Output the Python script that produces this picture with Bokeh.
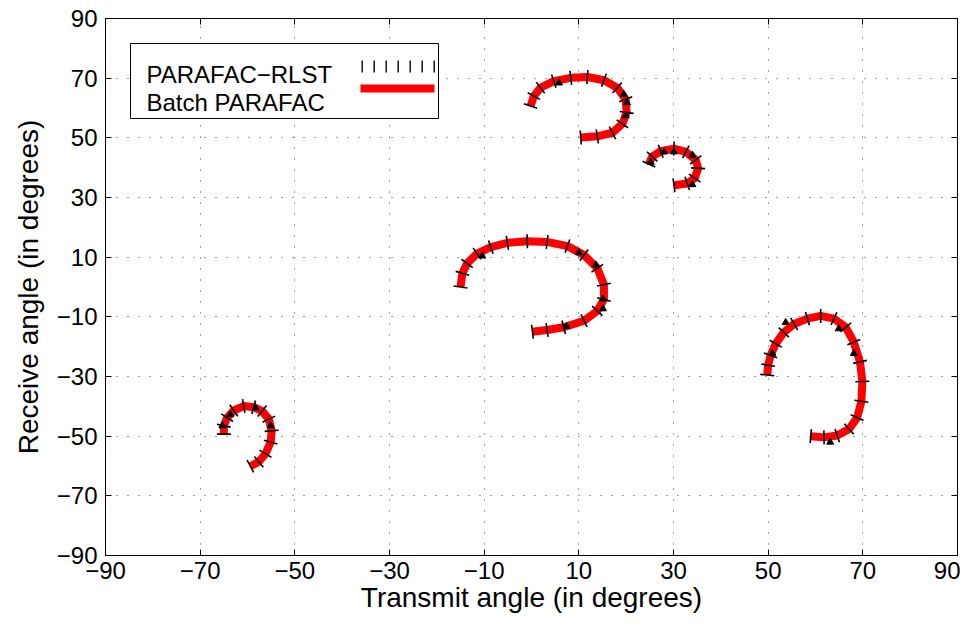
import numpy as np
from bokeh.plotting import figure
from bokeh.models import Range1d, FixedTicker, LinearAxis, Label, BoxAnnotation
from bokeh.embed import file_html
from bokeh.resources import INLINE

FONT = "Liberation Sans"

# ---- tick values ----
x_ticks = [-90, -70, -50, -30, -10, 10, 30, 50, 70, 90]
y_ticks = [-90, -70, -50, -30, -10, 10, 30, 50, 70, 90]

# ---- Batch PARAFAC trajectories ----
arc1_x = [-15.0, -14.6, -13.6, -11.5, -8.6, -5.1, -0.9, 3.3, 7.6, 11.1, 13.9, 15.3, 15.3, 13.9, 11.1, 6.8, 3.3, 0.2]
arc1_y = [0.0, 4.6, 7.9, 11.2, 13.4, 14.8, 15.3, 15.1, 13.7, 10.7, 6.3, 0.8, -4.2, -8.0, -11.3, -13.5, -14.4, -15.0]

arc2_x = [49.8, 50.0, 50.5, 51.6, 53.3, 55.5, 58.3, 61.1, 63.9, 66.4, 68.1, 69.4, 69.9, 69.7, 68.8, 67.1, 64.6, 61.8, 59.0]
arc2_y = [-29.5, -26.2, -22.9, -19.0, -15.2, -12.4, -10.6, -9.7, -10.6, -13.5, -18.5, -25.1, -31.7, -38.3, -43.8, -47.6, -49.8, -50.4, -50.0]

arc3_x = [-0.2, 0.5, 1.9, 4.7, 8.3, 11.8, 15.3, 18.1, 19.9, 20.1, 19.2, 17.1, 13.9, 10.4]
arc3_y = [60.7, 64.0, 66.8, 69.0, 70.1, 70.4, 69.3, 66.8, 62.9, 58.5, 54.7, 51.7, 50.5, 50.1]

arc4_x = [24.8, 25.5, 27.3, 30.1, 32.6, 34.7, 35.2, 34.5, 32.9, 30.1]
arc4_y = [41.2, 43.7, 45.5, 46.4, 45.3, 42.6, 39.8, 36.5, 34.7, 34.1]

arc5_x = [-65.0, -65.0, -64.3, -62.9, -60.8, -58.7, -56.9, -55.5, -54.9, -55.1, -56.2, -57.6, -59.4]
arc5_y = [-49.3, -46.5, -43.8, -41.4, -39.9, -40.3, -41.6, -44.3, -48.2, -52.0, -55.9, -58.6, -60.1]

# ---- PARAFAC-RLST arrow heads ----
tri_x = [-10.4, 10.0, 13.6, 15.1, 15.1, 7.4,
         53.7, 50.9, 64.9, 68.1, 63.1,
         5.8, 19.5, 20.2, 19.9,
         25.2, 28.0, 30.1, 34.0, 34.0,
         -65.3, -63.6, -58.3, -55.1]
tri_y = [10.4, 11.5, 7.4, -4.0, -7.3, -13.2,
         -11.9, -22.3, -14.0, -22.3, -52.0,
         68.4, 64.6, 61.8, 57.4,
         41.8, 45.3, 45.3, 44.2, 34.3,
         -46.5, -42.7, -40.5, -46.5]

arcs = [(arc1_x, arc1_y), (arc2_x, arc2_y), (arc3_x, arc3_y), (arc4_x, arc4_y), (arc5_x, arc5_y)]

W, H = 960, 619
ML, MR, MT, MB = 105, 3, 18, 64
FW, FH = W - ML - MR, H - MT - MB

p = figure(width=W, height=H, x_range=Range1d(-90, 90), y_range=Range1d(-90, 90),
           output_backend="svg", toolbar_location=None,
           min_border_left=ML, min_border_right=MR, min_border_top=MT, min_border_bottom=MB)
p.background_fill_color = "white"
p.border_fill_color = "white"
p.outline_line_color = "black"
p.outline_line_width = 1

def minus(v):
    return ("\u2212%d" % abs(v)) if v < 0 else "%d" % v

for ax, ticks in ((p.xaxis[0], x_ticks), (p.yaxis[0], y_ticks)):
    ax.ticker = FixedTicker(ticks=ticks)
    ax.major_label_overrides = {t: minus(t) for t in ticks}
    ax.major_tick_in = 6
    ax.major_tick_out = 0
    ax.minor_tick_line_color = None
    ax.axis_line_color = "black"
    ax.major_tick_line_color = "black"
    ax.major_label_text_font = FONT
    ax.major_label_text_font_size = "24px"
    ax.major_label_text_color = "black"
    ax.axis_label_text_font = FONT
    ax.axis_label_text_font_size = "28px"
    ax.axis_label_text_font_style = "normal"
    ax.axis_label_text_color = "black"

p.xaxis.axis_label = "Transmit angle (in degrees)"
p.yaxis.axis_label = "Receive angle (in degrees)"
p.xaxis.major_label_standoff = 6
p.xaxis.axis_label_standoff = 0
p.yaxis.major_label_standoff = 8
p.yaxis.axis_label_standoff = 10

for loc, ticks in (("above", x_ticks), ("right", y_ticks)):
    a = LinearAxis(ticker=FixedTicker(ticks=ticks), major_label_overrides={t: "" for t in ticks},
                   major_label_text_font_size="8px",
                   major_label_standoff=0, major_tick_in=6, major_tick_out=0,
                   minor_tick_line_color=None, axis_line_color="black")
    p.add_layout(a, loc)

for g, ticks in ((p.xgrid[0], x_ticks), (p.ygrid[0], y_ticks)):
    g.ticker = FixedTicker(ticks=ticks)
    g.grid_line_color = "black"
    g.grid_line_alpha = 0.75
    g.grid_line_dash = "1 10"
    g.grid_line_width = 1

# red batch curves
for ax_, ay_ in arcs:
    p.line(ax_, ay_, line_color="#ff0000", line_width=8, line_cap="butt", line_join="round")

# black RLST tick marks, perpendicular to the curve
sx, sy = FW / 180.0, FH / 180.0
L = 14.0
x0s, y0s, x1s, y1s = [], [], [], []
for ax_, ay_ in arcs:
    xs = np.array(ax_); ys = np.array(ay_)
    tx = np.gradient(xs * sx); ty = np.gradient(ys * sy)
    ang = np.arctan2(ty, tx) + np.pi / 2
    dx = np.cos(ang) * L / 2 / sx
    dy = np.sin(ang) * L / 2 / sy
    x0s += list(xs - dx); x1s += list(xs + dx)
    y0s += list(ys - dy); y1s += list(ys + dy)
p.segment(x0s, y0s, x1s, y1s, line_color="black", line_width=1.6)
p.scatter(tri_x, tri_y, marker="triangle", size=7, fill_color="black", line_color="black")

# legend (label left, sample right)
SCR = dict(left_units="screen", right_units="screen", top_units="screen", bottom_units="screen")
p.add_layout(BoxAnnotation(left=25, right=333, top=FH - 25, bottom=FH - 100,
                           fill_color="white", fill_alpha=1.0, line_color="black", line_width=1,
                           line_alpha=1.0, **SCR))
for k in range(7):
    p.add_layout(BoxAnnotation(left=256 + 12 * k, right=257.4 + 12 * k, top=FH - 42, bottom=FH - 54,
                               fill_color="black", fill_alpha=1.0, line_color=None, **SCR))
p.add_layout(BoxAnnotation(left=255, right=329, top=FH - 66, bottom=FH - 74,
                           fill_color="#ff0000", fill_alpha=1.0, line_color=None, **SCR))
p.add_layout(Label(x=41, y=FH - 56, x_units="screen", y_units="screen", text="PARAFAC\u2212RLST",
                   text_font=FONT, text_font_size="24px", text_color="black", text_baseline="alphabetic"))
p.add_layout(Label(x=41, y=FH - 84, x_units="screen", y_units="screen", text="Batch PARAFAC",
                   text_font=FONT, text_font_size="24px", text_color="black", text_baseline="alphabetic"))

open("out.html", "w").write(file_html(p, INLINE))
